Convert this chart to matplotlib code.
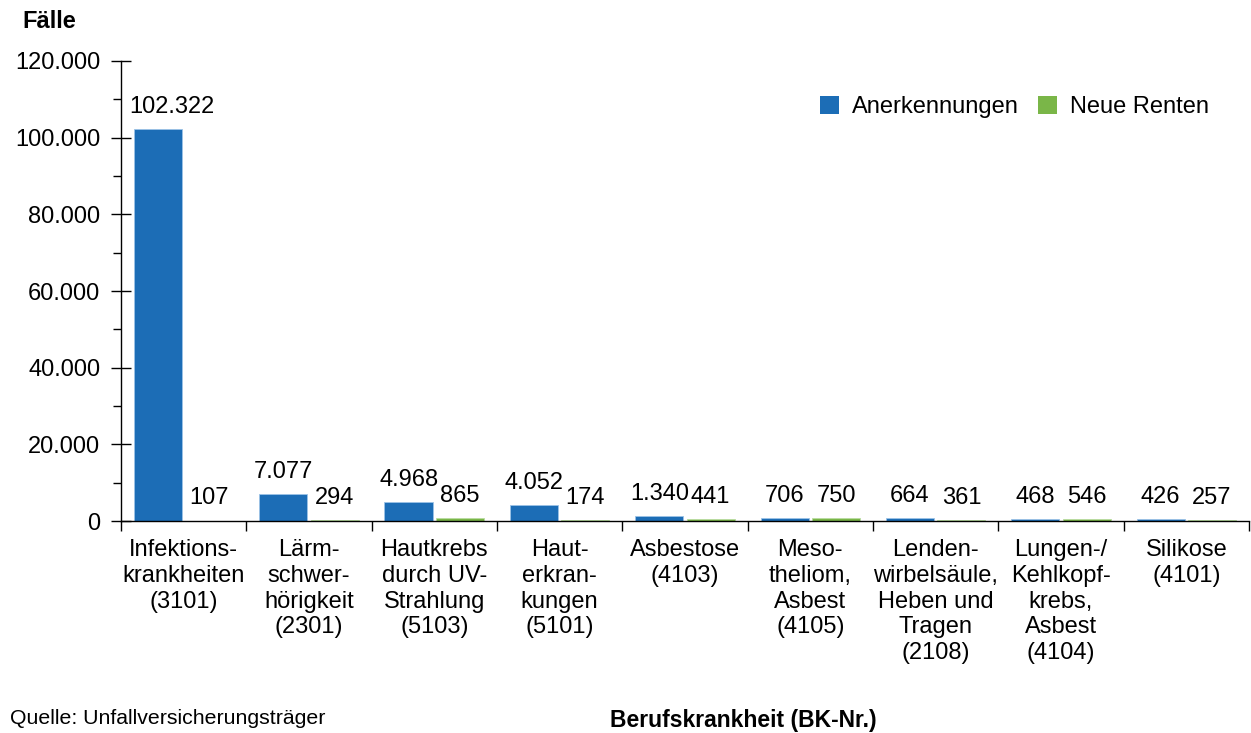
import matplotlib
matplotlib.use("Agg")
import matplotlib.pyplot as plt
import numpy as np
from matplotlib.ticker import MultipleLocator, FuncFormatter
from matplotlib.patches import Patch

plt.rcParams['font.family'] = ['Liberation Sans', 'DejaVu Sans']

categories = [
    "Infektions-\nkrankheiten\n(3101)",
    "Lärm-\nschwer-\nhörigkeit\n(2301)",
    "Hautkrebs\ndurch UV-\nStrahlung\n(5103)",
    "Haut-\nerkran-\nkungen\n(5101)",
    "Asbestose\n(4103)",
    "Meso-\ntheliom,\nAsbest\n(4105)",
    "Lenden-\nwirbelsäule,\nHeben und\nTragen\n(2108)",
    "Lungen-/\nKehlkopf-\nkrebs,\nAsbest\n(4104)",
    "Silikose\n(4101)",
]
anerkennungen = [102322, 7077, 4968, 4052, 1340, 706, 664, 468, 426]
neue_renten = [107, 294, 865, 174, 441, 750, 361, 546, 257]
series_names = ["Anerkennungen", "Neue Renten"]
c_blue = "#1c6db6"
c_green = "#7ab648"

def de_fmt(v):
    return f"{int(round(v)):,}".replace(",", ".")

FS = 17

fig = plt.figure(figsize=(12.51, 7.33), dpi=100)
ax = fig.add_axes([0.0967, 0.2892, 0.9017, 0.6276])

x = np.arange(len(categories))
w = 0.385
off = 0.205
b1 = ax.bar(x - off, anerkennungen, w, color=c_blue, edgecolor="#9cc3e6", linewidth=0.6)
b2 = ax.bar(x + off, neue_renten, w, color=c_green, edgecolor="#b9dca0", linewidth=0.6)

fig.canvas.draw()
renderer = fig.canvas.get_renderer()
ax_left_px = ax.transData.transform((-0.5, 0))[0]
for bars, vals in ((b1, anerkennungen), (b2, neue_renten)):
    for r, v in zip(bars, vals):
        t = ax.annotate(de_fmt(v), (r.get_x() + r.get_width() / 2, v),
                        xytext=(0, 8), textcoords="offset points",
                        ha="center", va="bottom", fontsize=FS)
        bb = t.get_window_extent(renderer)
        if bb.x0 < ax_left_px + 6:
            shift_pt = (ax_left_px + 6 - bb.x0) * 72 / fig.dpi
            t.xyann = (shift_pt, 8)

ax.set_xlim(-0.5, len(categories) - 0.5)
ax.set_ylim(0, 120000)
ax.yaxis.set_major_locator(MultipleLocator(20000))
ax.yaxis.set_minor_locator(MultipleLocator(10000))
ax.yaxis.set_major_formatter(FuncFormatter(lambda v, p: de_fmt(v)))
ax.tick_params(axis="y", which="major", direction="inout", length=14, width=1, labelsize=FS, pad=8)
ax.tick_params(axis="y", which="minor", direction="out", length=6, width=1)

ax.set_xticks(np.arange(-0.5, len(categories), 1.0))
ax.set_xticklabels([])
ax.set_xticks(x, minor=True)
ax.set_xticklabels(categories, minor=True, fontsize=FS, linespacing=1.22, va="top")
ax.tick_params(axis="x", which="major", direction="out", length=7, width=1)
ax.tick_params(axis="x", which="minor", length=0, pad=13)

for s in ("top", "right"):
    ax.spines[s].set_visible(False)
for s in ("left", "bottom"):
    ax.spines[s].set_linewidth(1)

handles = [Patch(facecolor=c_blue), Patch(facecolor=c_green)]
ax.legend(handles, series_names, loc="upper right", bbox_to_anchor=(0.9725, 0.945),
          ncol=2, frameon=False, fontsize=FS, handlelength=0.8, handleheight=0.8,
          handletextpad=0.55, columnspacing=0.8, borderaxespad=0)

fig.text(22 / 1251, 1 - 21 / 733, "Fälle", fontsize=17, fontweight="bold", va="center", ha="left")
fig.text(10 / 1251, 1 - 718 / 733, "Quelle: Unfallversicherungsträger", fontsize=15.3, va="center", ha="left")
fig.text(743 / 1251, 1 - 720 / 733, "Berufskrankheit (BK-Nr.)", fontsize=16.5, fontweight="bold", va="center", ha="center")

fig.savefig("out.png", dpi=100)
